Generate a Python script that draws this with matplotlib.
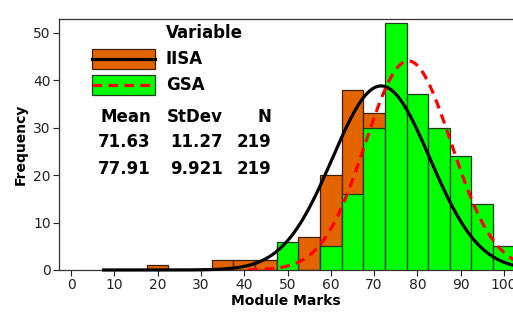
import numpy as np
import matplotlib
matplotlib.use("Agg")
import matplotlib.pyplot as plt
from matplotlib.patches import Rectangle
from matplotlib.lines import Line2D

# bin centres (width 5)
bin_centres = [10, 15, 20, 25, 30, 35, 40, 45, 50, 55, 60, 65, 70, 75, 80, 85, 90, 95, 100]
# IISA counts (bins 75+ are hidden behind GSA bars, estimated)
iisa_counts = [0, 0, 1, 0, 0, 2, 2, 2, 5, 7, 20, 38, 33, 30, 28, 22, 15, 10, 4]
gsa_counts = [0, 0, 0, 0, 0, 0, 0, 0, 6, 0, 5, 16, 30, 52, 37, 30, 24, 14, 5]

variables = ["IISA", "GSA"]
means = [71.63, 77.91]
stdevs = [11.27, 9.921]
ns = [219, 219]
bin_width = 5

orange = "#E46500"
green = "#00FF00"
orange_edge = "#3a2000"
green_edge = "#1e3d1e"

plt.rcParams["font.family"] = ["DejaVu Sans"]

fig = plt.figure(figsize=(5.13, 3.13), dpi=100)
ax = fig.add_axes([0.115, 0.1374, 0.885, 0.8026])

ax.bar(bin_centres, iisa_counts, width=bin_width, color=orange,
       edgecolor=orange_edge, linewidth=0.9, zorder=2)
ax.bar(bin_centres, gsa_counts, width=bin_width, color=green,
       edgecolor=green_edge, linewidth=0.9, zorder=3)


def normal_curve(x, mu, sd, n):
    return n * bin_width * np.exp(-0.5 * ((x - mu) / sd) ** 2) / (sd * np.sqrt(2 * np.pi))


dash = (0, (3, 2))
x1 = np.linspace(7.5, 104, 400)
ax.plot(x1, normal_curve(x1, means[0], stdevs[0], ns[0]), color="black",
        linewidth=2.3, zorder=4, clip_on=False)
x2 = np.linspace(41, 104, 300)
ax.plot(x2, normal_curve(x2, means[1], stdevs[1], ns[1]), color="#FF0000",
        linewidth=2.3, linestyle=dash, zorder=5)

ax.set_xlim(-2.8, 102.1)
ax.set_ylim(0, 52.9)
ax.set_xticks(range(0, 101, 10))
ax.set_yticks(range(0, 51, 10))
ax.tick_params(axis="both", direction="out", length=4, width=0.8,
               labelsize=10, colors="#222222", pad=2)
for side in ["left", "bottom", "top"]:
    ax.spines[side].set_color("#333333")
    ax.spines[side].set_linewidth(0.9)
ax.spines["right"].set_visible(False)

ax.set_xlabel("Module Marks", fontsize=10, fontweight="bold", labelpad=1)
ax.set_ylabel("Frequency", fontsize=10, fontweight="bold", labelpad=4)


def px(xp, yp):
    # original-pixel position to axes fraction
    return (xp - 59) / 454, (270 - yp) / 251.3


# legend block drawn by hand
bold12 = dict(transform=ax.transAxes, fontsize=12, fontweight="bold", zorder=6)
ax.text(*px(166, 33), "Variable", ha="left", va="center", **bold12)
styles = [(orange, orange_edge, "black", "-"), (green, green_edge, "#FF0000", dash)]
box_tops = [49, 75]
for name, (fc, ec, lc, ls), top in zip(variables, styles, box_tops):
    x0, y0 = px(92, top + 20)
    x1b, y1b = px(155, top)
    ax.add_patch(Rectangle((x0, y0), x1b - x0, y1b - y0, transform=ax.transAxes,
                           facecolor=fc, edgecolor=ec, linewidth=0.9, zorder=6))
    ym = (y0 + y1b) / 2
    ax.add_line(Line2D([x0, x1b], [ym, ym], transform=ax.transAxes, color=lc,
                       linestyle=ls, linewidth=2.3, zorder=7))
    ax.text(*px(166, top + 10), name, ha="left", va="center", **bold12)

col_right = [151, 223, 271]
rows_y = [117, 142, 169]
headers = ["Mean", "StDev", "N"]
for xr, h in zip(col_right, headers):
    ax.text(*px(xr, rows_y[0]), h, ha="right", va="center", **bold12)
for i in range(2):
    vals = [f"{means[i]:.2f}", f"{stdevs[i]:g}", f"{ns[i]}"]
    for xr, v in zip(col_right, vals):
        ax.text(*px(xr, rows_y[i + 1]), v, ha="right", va="center", **bold12)

fig.savefig("out.png", dpi=100)
